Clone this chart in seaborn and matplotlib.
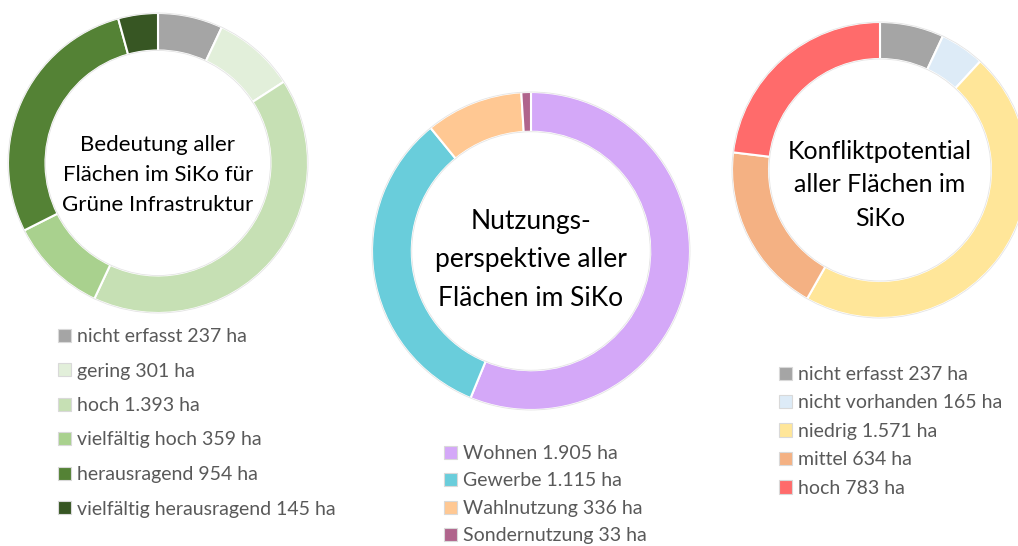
import matplotlib
matplotlib.use("Agg")
import matplotlib.pyplot as plt
import seaborn as sns

sns.set_theme(style="white")
plt.rcParams['font.family'] = ['Lato', 'DejaVu Sans']

# ---- data ----
cat_gi = ["nicht erfasst", "gering", "hoch", "vielfältig hoch", "herausragend", "vielfältig herausragend"]
val_gi = [237, 301, 1393, 359, 954, 145]
col_gi = ["#A5A5A5", "#E2EFDA", "#C6E0B4", "#A9D18E", "#548235", "#375623"]
title_gi = "Bedeutung aller\nFlächen im SiKo für\nGrüne Infrastruktur"

cat_np = ["Wohnen", "Gewerbe", "Wahlnutzung", "Sondernutzung"]
val_np = [1905, 1115, 336, 33]
col_np = ["#D4A8F8", "#69CDDB", "#FFC893", "#B0648C"]
title_np = "Nutzungs-\nperspektive aller\nFlächen im SiKo"

cat_kp = ["nicht erfasst", "nicht vorhanden", "niedrig", "mittel", "hoch"]
val_kp = [237, 165, 1571, 634, 783]
col_kp = ["#A5A5A5", "#DDEBF7", "#FFE699", "#F4B183", "#FF6B6B"]
title_kp = "Konfliktpotential\naller Flächen im\nSiKo"

W, H = 1018, 546
fig = plt.figure(figsize=(W / 100, H / 100), dpi=100)
fig.patch.set_facecolor("white")


def fmt(v):
    return f"{v:,}".replace(",", ".") + " ha"


def donut(cx, cy, r, vals, cols, cats, title, leg_xy, spacing,
          title_size, title_ls, title_dy):
    ax = fig.add_axes([(cx - r) / W, (H - cy - r) / H, 2 * r / W, 2 * r / H])
    wedges, _ = ax.pie(vals, colors=cols, startangle=90, counterclock=False,
                       wedgeprops=dict(width=0.25, edgecolor="white", linewidth=1.5))
    for w in wedges:
        w.set_clip_on(False)
    for rr in (1.0, 0.75):
        c = plt.Circle((0, 0), rr, fill=False, edgecolor="#E4E4E4", linewidth=0.6, clip_on=False)
        ax.add_patch(c)
    ax.set_xlim(-1, 1)
    ax.set_ylim(-1, 1)
    ax.set_aspect("equal")
    ax.axis("off")
    ax.text(0, -title_dy / r, title, ha="center", va="center", fontsize=title_size,
            color="black", linespacing=title_ls)
    labels = [f"{c} {fmt(v)}" for c, v in zip(cats, vals)]
    leg = fig.legend(wedges, labels, loc="upper left",
                     bbox_to_anchor=(leg_xy[0] / W, 1 - leg_xy[1] / H),
                     frameon=False, fontsize=14, labelcolor="#595959",
                     handlelength=0.68, handleheight=0.68, handletextpad=0.3,
                     labelspacing=spacing, borderpad=0, borderaxespad=0)
    for h in leg.legend_handles:
        h.set_edgecolor("#D9D9D9")
        h.set_linewidth(0.8)
    return ax


donut(158, 163, 150, val_gi, col_gi, cat_gi, title_gi, (58, 328), 0.90, 16, 1.64, 12)
donut(531, 251, 159, val_np, col_np, cat_np, title_np, (444, 445), 0.54, 19, 1.70, 9)
donut(880, 170, 148, val_kp, col_kp, cat_kp, title_kp, (779, 366), 0.59, 18, 1.55, 15)

fig.savefig("out.png", dpi=100, facecolor="white")
